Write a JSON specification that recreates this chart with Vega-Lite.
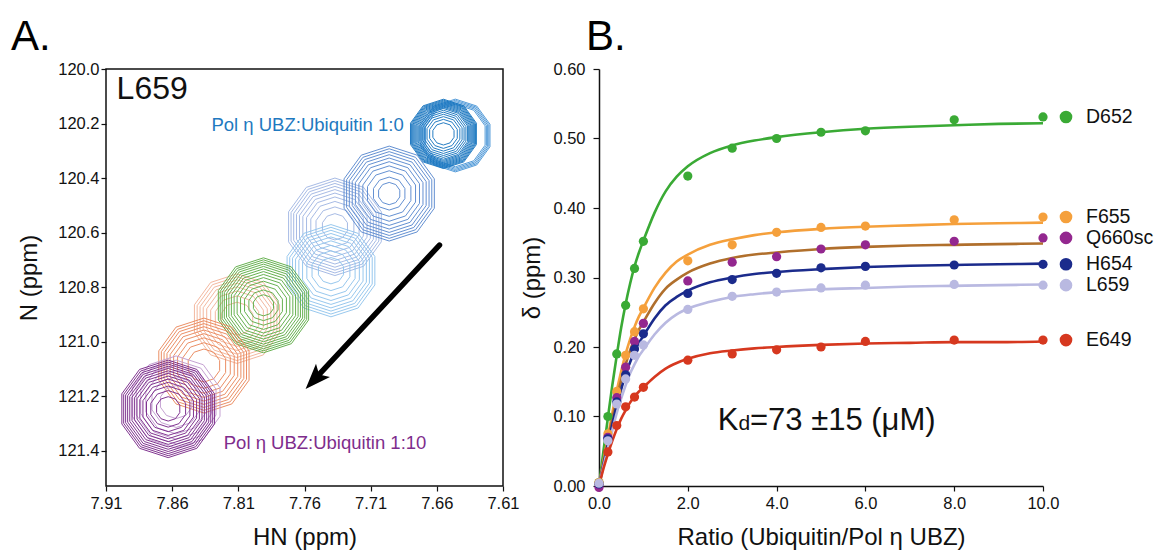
{
  "$schema": "https://vega.github.io/schema/vega-lite/v6.json",
  "background": "white",
  "padding": {"left": 10, "top": 15, "right": 5, "bottom": 5},
  "autosize": {"type": "pad"},
  "bounds": "flush",
  "spacing": 96,
  "config": {
    "font": "Liberation Sans",
    "view": {"stroke": null},
    "axis": {
      "labelFont": "Liberation Sans", "labelFontSize": 16.5, "labelColor": "#111",
      "titleFont": "Liberation Sans", "titleFontSize": 24, "titleFontWeight": "normal", "titleColor": "#111",
      "grid": false, "tickColor": "#111", "domainColor": "#111", "domainWidth": 1.5, "tickWidth": 1.2,
      "labelFlush": false, "labelOverlap": false
    }
  },
  "datasets": {
    "contours": [
      {"spectrum":"p3","hn":7.737,"n":120.579,"level":1},{"spectrum":"p3","hn":7.737,"n":120.579,"level":3},{"spectrum":"p3","hn":7.737,"n":120.579,"level":5},{"spectrum":"p3","hn":7.737,"n":120.579,"level":7},{"spectrum":"p3","hn":7.737,"n":120.579,"level":9},{"spectrum":"p3","hn":7.737,"n":120.579,"level":11},{"spectrum":"p3","hn":7.737,"n":120.579,"level":13},{"spectrum":"p3","hn":7.737,"n":120.579,"level":15},{"spectrum":"p3","hn":7.737,"n":120.579,"level":17},{"spectrum":"p3","hn":7.737,"n":120.579,"level":18.8},
      {"spectrum":"p4","hn":7.74,"n":120.74,"level":3},{"spectrum":"p4","hn":7.74,"n":120.74,"level":5},{"spectrum":"p4","hn":7.74,"n":120.74,"level":7},{"spectrum":"p4","hn":7.74,"n":120.74,"level":9},{"spectrum":"p4","hn":7.74,"n":120.74,"level":11},{"spectrum":"p4","hn":7.74,"n":120.74,"level":13},{"spectrum":"p4","hn":7.74,"n":120.74,"level":15},{"spectrum":"p4","hn":7.74,"n":120.74,"level":17},{"spectrum":"p4","hn":7.74,"n":120.74,"level":18.8},
      {"spectrum":"p2","hn":7.696,"n":120.457,"level":2},{"spectrum":"p2","hn":7.696,"n":120.457,"level":4},{"spectrum":"p2","hn":7.696,"n":120.457,"level":6},{"spectrum":"p2","hn":7.696,"n":120.457,"level":8},{"spectrum":"p2","hn":7.696,"n":120.457,"level":10},{"spectrum":"p2","hn":7.696,"n":120.457,"level":12},{"spectrum":"p2","hn":7.696,"n":120.457,"level":14},{"spectrum":"p2","hn":7.696,"n":120.457,"level":16},{"spectrum":"p2","hn":7.696,"n":120.457,"level":18},{"spectrum":"p2","hn":7.696,"n":120.457,"level":19.2},
      {"spectrum":"p1b","hn":7.646,"n":120.244,"level":9.5},{"spectrum":"p1b","hn":7.646,"n":120.244,"level":10.2},{"spectrum":"p1b","hn":7.646,"n":120.244,"level":10.9},{"spectrum":"p1b","hn":7.646,"n":120.244,"level":11.6},{"spectrum":"p1b","hn":7.646,"n":120.244,"level":12.3},
      {"spectrum":"p1","hn":7.655,"n":120.238,"level":10.5},{"spectrum":"p1","hn":7.655,"n":120.238,"level":11},{"spectrum":"p1","hn":7.655,"n":120.238,"level":11.5},{"spectrum":"p1","hn":7.655,"n":120.238,"level":12},{"spectrum":"p1","hn":7.655,"n":120.238,"level":12.5},{"spectrum":"p1","hn":7.655,"n":120.238,"level":13},{"spectrum":"p1","hn":7.655,"n":120.238,"level":13.5},{"spectrum":"p1","hn":7.655,"n":120.238,"level":14},{"spectrum":"p1","hn":7.655,"n":120.238,"level":14.5},{"spectrum":"p1","hn":7.655,"n":120.238,"level":15},{"spectrum":"p1","hn":7.655,"n":120.238,"level":15.7},{"spectrum":"p1","hn":7.655,"n":120.238,"level":16.4},{"spectrum":"p1","hn":7.655,"n":120.238,"level":17.1},{"spectrum":"p1","hn":7.655,"n":120.238,"level":17.8},{"spectrum":"p1","hn":7.655,"n":120.238,"level":18.5},{"spectrum":"p1","hn":7.655,"n":120.238,"level":19.2},
      {"spectrum":"p6","hn":7.811,"n":120.916,"level":4},{"spectrum":"p6","hn":7.811,"n":120.916,"level":6},{"spectrum":"p6","hn":7.811,"n":120.916,"level":8},{"spectrum":"p6","hn":7.811,"n":120.916,"level":10},{"spectrum":"p6","hn":7.811,"n":120.916,"level":12},{"spectrum":"p6","hn":7.811,"n":120.916,"level":14},{"spectrum":"p6","hn":7.811,"n":120.916,"level":16},{"spectrum":"p6","hn":7.811,"n":120.916,"level":18},
      {"spectrum":"p5","hn":7.791,"n":120.867,"level":2},{"spectrum":"p5","hn":7.791,"n":120.867,"level":3.5},{"spectrum":"p5","hn":7.791,"n":120.867,"level":5},{"spectrum":"p5","hn":7.791,"n":120.867,"level":6.5},{"spectrum":"p5","hn":7.791,"n":120.867,"level":8},{"spectrum":"p5","hn":7.791,"n":120.867,"level":9.5},{"spectrum":"p5","hn":7.791,"n":120.867,"level":11},{"spectrum":"p5","hn":7.791,"n":120.867,"level":12.5},{"spectrum":"p5","hn":7.791,"n":120.867,"level":14},{"spectrum":"p5","hn":7.791,"n":120.867,"level":15.5},{"spectrum":"p5","hn":7.791,"n":120.867,"level":17},{"spectrum":"p5","hn":7.791,"n":120.867,"level":18.3},{"spectrum":"p5","hn":7.791,"n":120.867,"level":19.3},
      {"spectrum":"p7","hn":7.836,"n":121.088,"level":2},{"spectrum":"p7","hn":7.836,"n":121.088,"level":4},{"spectrum":"p7","hn":7.836,"n":121.088,"level":6},{"spectrum":"p7","hn":7.836,"n":121.088,"level":8},{"spectrum":"p7","hn":7.836,"n":121.088,"level":10},{"spectrum":"p7","hn":7.836,"n":121.088,"level":12},{"spectrum":"p7","hn":7.836,"n":121.088,"level":14},{"spectrum":"p7","hn":7.836,"n":121.088,"level":16},{"spectrum":"p7","hn":7.836,"n":121.088,"level":18},
      {"spectrum":"p8","hn":7.857,"n":121.222,"level":3},{"spectrum":"p8","hn":7.857,"n":121.222,"level":6},{"spectrum":"p8","hn":7.857,"n":121.222,"level":9},{"spectrum":"p8","hn":7.857,"n":121.222,"level":12},{"spectrum":"p8","hn":7.857,"n":121.222,"level":15},{"spectrum":"p8","hn":7.857,"n":121.222,"level":18},
      {"spectrum":"p9","hn":7.863,"n":121.247,"level":1},{"spectrum":"p9","hn":7.863,"n":121.247,"level":2.5},{"spectrum":"p9","hn":7.863,"n":121.247,"level":4},{"spectrum":"p9","hn":7.863,"n":121.247,"level":5.5},{"spectrum":"p9","hn":7.863,"n":121.247,"level":7},{"spectrum":"p9","hn":7.863,"n":121.247,"level":8.5},{"spectrum":"p9","hn":7.863,"n":121.247,"level":10},{"spectrum":"p9","hn":7.863,"n":121.247,"level":11.5},{"spectrum":"p9","hn":7.863,"n":121.247,"level":13},{"spectrum":"p9","hn":7.863,"n":121.247,"level":14.5},{"spectrum":"p9","hn":7.863,"n":121.247,"level":16},{"spectrum":"p9","hn":7.863,"n":121.247,"level":17.5},{"spectrum":"p9","hn":7.863,"n":121.247,"level":19}
    ],
    "pts": [
      {"series":"D652","ratio":0,"delta":0.005},{"series":"D652","ratio":0.2,"delta":0.100},{"series":"D652","ratio":0.4,"delta":0.190},{"series":"D652","ratio":0.6,"delta":0.260},{"series":"D652","ratio":0.8,"delta":0.313},{"series":"D652","ratio":1,"delta":0.352},{"series":"D652","ratio":2,"delta":0.446},{"series":"D652","ratio":3,"delta":0.486},{"series":"D652","ratio":4,"delta":0.500},{"series":"D652","ratio":5,"delta":0.509},{"series":"D652","ratio":6,"delta":0.511},{"series":"D652","ratio":8,"delta":0.527},{"series":"D652","ratio":10,"delta":0.531},
      {"series":"E649","ratio":0,"delta":0.004},{"series":"E649","ratio":0.2,"delta":0.049},{"series":"E649","ratio":0.4,"delta":0.087},{"series":"E649","ratio":0.6,"delta":0.114},{"series":"E649","ratio":0.8,"delta":0.128},{"series":"E649","ratio":1,"delta":0.142},{"series":"E649","ratio":2,"delta":0.181},{"series":"E649","ratio":3,"delta":0.190},{"series":"E649","ratio":4,"delta":0.196},{"series":"E649","ratio":5,"delta":0.200},{"series":"E649","ratio":6,"delta":0.208},{"series":"E649","ratio":8,"delta":0.210},{"series":"E649","ratio":10,"delta":0.210},
      {"series":"F655","ratio":0,"delta":0.005},{"series":"F655","ratio":0.2,"delta":0.075},{"series":"F655","ratio":0.4,"delta":0.136},{"series":"F655","ratio":0.6,"delta":0.188},{"series":"F655","ratio":0.8,"delta":0.222},{"series":"F655","ratio":1,"delta":0.255},{"series":"F655","ratio":2,"delta":0.324},{"series":"F655","ratio":3,"delta":0.347},{"series":"F655","ratio":4,"delta":0.365},{"series":"F655","ratio":5,"delta":0.372},{"series":"F655","ratio":6,"delta":0.374},{"series":"F655","ratio":8,"delta":0.383},{"series":"F655","ratio":10,"delta":0.387},
      {"series":"Q660sc","ratio":0,"delta":-0.002},{"series":"Q660sc","ratio":0.2,"delta":0.070},{"series":"Q660sc","ratio":0.4,"delta":0.127},{"series":"Q660sc","ratio":0.6,"delta":0.171},{"series":"Q660sc","ratio":0.8,"delta":0.208},{"series":"Q660sc","ratio":1,"delta":0.234},{"series":"Q660sc","ratio":2,"delta":0.295},{"series":"Q660sc","ratio":3,"delta":0.322},{"series":"Q660sc","ratio":4,"delta":0.330},{"series":"Q660sc","ratio":5,"delta":0.341},{"series":"Q660sc","ratio":6,"delta":0.347},{"series":"Q660sc","ratio":8,"delta":0.352},{"series":"Q660sc","ratio":10,"delta":0.357},
      {"series":"H654","ratio":0,"delta":0.003},{"series":"H654","ratio":0.2,"delta":0.068},{"series":"H654","ratio":0.4,"delta":0.121},{"series":"H654","ratio":0.6,"delta":0.160},{"series":"H654","ratio":0.8,"delta":0.197},{"series":"H654","ratio":1,"delta":0.219},{"series":"H654","ratio":2,"delta":0.277},{"series":"H654","ratio":3,"delta":0.297},{"series":"H654","ratio":4,"delta":0.306},{"series":"H654","ratio":5,"delta":0.314},{"series":"H654","ratio":6,"delta":0.316},{"series":"H654","ratio":8,"delta":0.318},{"series":"H654","ratio":10,"delta":0.319},
      {"series":"L659","ratio":0,"delta":0.004},{"series":"L659","ratio":0.2,"delta":0.065},{"series":"L659","ratio":0.4,"delta":0.118},{"series":"L659","ratio":0.6,"delta":0.154},{"series":"L659","ratio":0.8,"delta":0.188},{"series":"L659","ratio":1,"delta":0.203},{"series":"L659","ratio":2,"delta":0.254},{"series":"L659","ratio":3,"delta":0.273},{"series":"L659","ratio":4,"delta":0.279},{"series":"L659","ratio":5,"delta":0.285},{"series":"L659","ratio":6,"delta":0.289},{"series":"L659","ratio":8,"delta":0.290},{"series":"L659","ratio":10,"delta":0.289}
    ],
    "fit": [
      {"series":"D652","ratio":0,"delta":0},{"series":"D652","ratio":0.1,"delta":0.050},{"series":"D652","ratio":0.2,"delta":0.098},{"series":"D652","ratio":0.3,"delta":0.145},{"series":"D652","ratio":0.4,"delta":0.188},{"series":"D652","ratio":0.5,"delta":0.228},{"series":"D652","ratio":0.6,"delta":0.262},{"series":"D652","ratio":0.7,"delta":0.291},{"series":"D652","ratio":0.8,"delta":0.316},{"series":"D652","ratio":0.9,"delta":0.336},{"series":"D652","ratio":1,"delta":0.353},{"series":"D652","ratio":1.25,"delta":0.393},{"series":"D652","ratio":1.5,"delta":0.424},{"series":"D652","ratio":1.75,"delta":0.445},{"series":"D652","ratio":2,"delta":0.460},{"series":"D652","ratio":2.5,"delta":0.479},{"series":"D652","ratio":3,"delta":0.490},{"series":"D652","ratio":3.5,"delta":0.497},{"series":"D652","ratio":4,"delta":0.502},{"series":"D652","ratio":5,"delta":0.509},{"series":"D652","ratio":6,"delta":0.514},{"series":"D652","ratio":7,"delta":0.517},{"series":"D652","ratio":8,"delta":0.519},{"series":"D652","ratio":9,"delta":0.521},{"series":"D652","ratio":10,"delta":0.522},
      {"series":"F655","ratio":0,"delta":0},{"series":"F655","ratio":0.1,"delta":0.036},{"series":"F655","ratio":0.2,"delta":0.071},{"series":"F655","ratio":0.3,"delta":0.105},{"series":"F655","ratio":0.4,"delta":0.137},{"series":"F655","ratio":0.5,"delta":0.165},{"series":"F655","ratio":0.6,"delta":0.190},{"series":"F655","ratio":0.7,"delta":0.211},{"series":"F655","ratio":0.8,"delta":0.229},{"series":"F655","ratio":0.9,"delta":0.244},{"series":"F655","ratio":1,"delta":0.256},{"series":"F655","ratio":1.25,"delta":0.285},{"series":"F655","ratio":1.5,"delta":0.307},{"series":"F655","ratio":1.75,"delta":0.323},{"series":"F655","ratio":2,"delta":0.333},{"series":"F655","ratio":2.5,"delta":0.347},{"series":"F655","ratio":3,"delta":0.355},{"series":"F655","ratio":3.5,"delta":0.361},{"series":"F655","ratio":4,"delta":0.365},{"series":"F655","ratio":5,"delta":0.370},{"series":"F655","ratio":6,"delta":0.373},{"series":"F655","ratio":7,"delta":0.375},{"series":"F655","ratio":8,"delta":0.377},{"series":"F655","ratio":9,"delta":0.378},{"series":"F655","ratio":10,"delta":0.379},
      {"series":"Q660sc","ratio":0,"delta":0},{"series":"Q660sc","ratio":0.1,"delta":0.033},{"series":"Q660sc","ratio":0.2,"delta":0.066},{"series":"Q660sc","ratio":0.3,"delta":0.097},{"series":"Q660sc","ratio":0.4,"delta":0.126},{"series":"Q660sc","ratio":0.5,"delta":0.152},{"series":"Q660sc","ratio":0.6,"delta":0.175},{"series":"Q660sc","ratio":0.7,"delta":0.195},{"series":"Q660sc","ratio":0.8,"delta":0.211},{"series":"Q660sc","ratio":0.9,"delta":0.225},{"series":"Q660sc","ratio":1,"delta":0.236},{"series":"Q660sc","ratio":1.25,"delta":0.263},{"series":"Q660sc","ratio":1.5,"delta":0.284},{"series":"Q660sc","ratio":1.75,"delta":0.297},{"series":"Q660sc","ratio":2,"delta":0.307},{"series":"Q660sc","ratio":2.5,"delta":0.320},{"series":"Q660sc","ratio":3,"delta":0.328},{"series":"Q660sc","ratio":3.5,"delta":0.333},{"series":"Q660sc","ratio":4,"delta":0.336},{"series":"Q660sc","ratio":5,"delta":0.341},{"series":"Q660sc","ratio":6,"delta":0.344},{"series":"Q660sc","ratio":7,"delta":0.346},{"series":"Q660sc","ratio":8,"delta":0.347},{"series":"Q660sc","ratio":9,"delta":0.348},{"series":"Q660sc","ratio":10,"delta":0.349},
      {"series":"H654","ratio":0,"delta":0},{"series":"H654","ratio":0.1,"delta":0.031},{"series":"H654","ratio":0.2,"delta":0.060},{"series":"H654","ratio":0.3,"delta":0.089},{"series":"H654","ratio":0.4,"delta":0.116},{"series":"H654","ratio":0.5,"delta":0.139},{"series":"H654","ratio":0.6,"delta":0.161},{"series":"H654","ratio":0.7,"delta":0.178},{"series":"H654","ratio":0.8,"delta":0.194},{"series":"H654","ratio":0.9,"delta":0.206},{"series":"H654","ratio":1,"delta":0.216},{"series":"H654","ratio":1.25,"delta":0.241},{"series":"H654","ratio":1.5,"delta":0.260},{"series":"H654","ratio":1.75,"delta":0.272},{"series":"H654","ratio":2,"delta":0.281},{"series":"H654","ratio":2.5,"delta":0.293},{"series":"H654","ratio":3,"delta":0.300},{"series":"H654","ratio":3.5,"delta":0.305},{"series":"H654","ratio":4,"delta":0.308},{"series":"H654","ratio":5,"delta":0.312},{"series":"H654","ratio":6,"delta":0.315},{"series":"H654","ratio":7,"delta":0.317},{"series":"H654","ratio":8,"delta":0.318},{"series":"H654","ratio":9,"delta":0.319},{"series":"H654","ratio":10,"delta":0.320},
      {"series":"L659","ratio":0,"delta":0},{"series":"L659","ratio":0.1,"delta":0.028},{"series":"L659","ratio":0.2,"delta":0.054},{"series":"L659","ratio":0.3,"delta":0.080},{"series":"L659","ratio":0.4,"delta":0.105},{"series":"L659","ratio":0.5,"delta":0.126},{"series":"L659","ratio":0.6,"delta":0.145},{"series":"L659","ratio":0.7,"delta":0.162},{"series":"L659","ratio":0.8,"delta":0.175},{"series":"L659","ratio":0.9,"delta":0.187},{"series":"L659","ratio":1,"delta":0.196},{"series":"L659","ratio":1.25,"delta":0.218},{"series":"L659","ratio":1.5,"delta":0.235},{"series":"L659","ratio":1.75,"delta":0.247},{"series":"L659","ratio":2,"delta":0.255},{"series":"L659","ratio":2.5,"delta":0.265},{"series":"L659","ratio":3,"delta":0.272},{"series":"L659","ratio":3.5,"delta":0.276},{"series":"L659","ratio":4,"delta":0.279},{"series":"L659","ratio":5,"delta":0.283},{"series":"L659","ratio":6,"delta":0.285},{"series":"L659","ratio":7,"delta":0.287},{"series":"L659","ratio":8,"delta":0.288},{"series":"L659","ratio":9,"delta":0.289},{"series":"L659","ratio":10,"delta":0.290},
      {"series":"E649","ratio":0,"delta":0},{"series":"E649","ratio":0.1,"delta":0.025},{"series":"E649","ratio":0.2,"delta":0.046},{"series":"E649","ratio":0.3,"delta":0.065},{"series":"E649","ratio":0.4,"delta":0.082},{"series":"E649","ratio":0.5,"delta":0.097},{"series":"E649","ratio":0.6,"delta":0.109},{"series":"E649","ratio":0.7,"delta":0.120},{"series":"E649","ratio":0.8,"delta":0.129},{"series":"E649","ratio":0.9,"delta":0.136},{"series":"E649","ratio":1,"delta":0.142},{"series":"E649","ratio":1.25,"delta":0.157},{"series":"E649","ratio":1.5,"delta":0.169},{"series":"E649","ratio":1.75,"delta":0.177},{"series":"E649","ratio":2,"delta":0.183},{"series":"E649","ratio":2.5,"delta":0.191},{"series":"E649","ratio":3,"delta":0.195},{"series":"E649","ratio":3.5,"delta":0.198},{"series":"E649","ratio":4,"delta":0.200},{"series":"E649","ratio":5,"delta":0.203},{"series":"E649","ratio":6,"delta":0.205},{"series":"E649","ratio":7,"delta":0.206},{"series":"E649","ratio":8,"delta":0.207},{"series":"E649","ratio":9,"delta":0.207},{"series":"E649","ratio":10,"delta":0.208}
    ]
  },
  "hconcat": [
    {
      "width": 397,
      "height": 417,
      "view": {"stroke": "#111", "strokeWidth": 1.5},
      "encoding": {
        "x": {"field": "hn", "type": "quantitative",
              "scale": {"domain": [7.61, 7.91], "reverse": true, "nice": false, "zero": false},
              "axis": {"values": [7.91, 7.86, 7.81, 7.76, 7.71, 7.66, 7.61], "format": ".2f", "title": "HN (ppm)", "domain": false, "tickSize": 5, "labelPadding": 4, "titlePadding": 14}},
        "y": {"field": "n", "type": "quantitative",
              "scale": {"domain": [120.0, 121.53], "reverse": true, "nice": false, "zero": false},
              "axis": {"values": [120.0, 120.2, 120.4, 120.6, 120.8, 121.0, 121.2, 121.4], "format": ".1f", "title": "N (ppm)", "domain": false, "tickSize": 5, "labelPadding": 2, "titlePadding": 16}}
      },
      "layer": [
        {
          "data": {"name": "contours"},
          "mark": {"type": "point", "shape": "M0,-1L0.588,-0.809L0.951,-0.309L0.951,0.309L0.588,0.809L0,1L-0.588,0.809L-0.951,0.309L-0.951,-0.309L-0.588,-0.809Z", "filled": false, "strokeWidth": 1, "opacity": 0.95},
          "encoding": {
            "color": {"field": "spectrum", "type": "nominal", "legend": null,
                      "scale": {"domain": ["p1","p1b","p2","p3","p4","p5","p6","p7","p8","p9"],
                                "range": ["#1a77c1","#4b97d8","#5c8bd0","#a3b8e4","#93c6ee","#5fae48","#f3b59b","#eb8a5e","#c39ed1","#7b2b8b"]}},
            "size": {"field": "level", "type": "quantitative", "legend": null, "scale": {"domain": [0, 20], "range": [10000, 100]}}
          }
        },
        {
          "data": {"values": [{"hn": 7.658, "n": 120.646}, {"hn": 7.7526, "n": 121.14}]},
          "mark": {"type": "line", "color": "#000", "strokeWidth": 5.5, "strokeCap": "round"},
          "encoding": {}
        },
        {
          "data": {"values": [{"hn": 7.7526, "n": 121.14}]},
          "mark": {"type": "point", "shape": "M0,-1L0.75,1L0,0.55L-0.75,1Z", "filled": true, "color": "#000", "opacity": 1, "size": 650, "angle": 223},
          "encoding": {}
        },
        {
          "data": {"values": [{"hn": 7.902, "n": 120.073, "label": "L659"}]},
          "mark": {"type": "text", "align": "left", "baseline": "middle", "fontSize": 32, "color": "#111"},
          "encoding": {"text": {"field": "label"}}
        },
        {
          "data": {"values": [{"hn": 7.685, "n": 120.207, "label": "Pol η UBZ:Ubiquitin 1:0"}]},
          "mark": {"type": "text", "align": "right", "baseline": "middle", "fontSize": 18.5, "color": "#1f79c0"},
          "encoding": {"text": {"field": "label"}}
        },
        {
          "data": {"values": [{"hn": 7.821, "n": 121.373, "label": "Pol η UBZ:Ubiquitin 1:10"}]},
          "mark": {"type": "text", "align": "left", "baseline": "middle", "fontSize": 18.5, "color": "#7e2d8c"},
          "encoding": {"text": {"field": "label"}}
        },
        {
          "data": {"values": [{"hn": 7.9818, "n": 119.930, "label": "A."}]},
          "mark": {"type": "text", "align": "left", "baseline": "alphabetic", "fontSize": 42, "color": "#000"},
          "encoding": {"text": {"field": "label"}}
        }
      ]
    },
    {
      "width": 444,
      "height": 417,
      "resolve": {"scale": {"color": "independent"}},
      "encoding": {
        "x": {"field": "ratio", "type": "quantitative",
              "scale": {"domain": [0, 10], "nice": false, "zero": false},
              "axis": {"values": [0, 2, 4, 6, 8, 10], "format": ".1f", "title": "Ratio (Ubiquitin/Pol η UBZ)", "tickSize": 5, "labelPadding": 4, "titlePadding": 14}},
        "y": {"field": "delta", "type": "quantitative",
              "scale": {"domain": [0, 0.6], "nice": false, "zero": false},
              "axis": {"values": [0, 0.1, 0.2, 0.3, 0.4, 0.5, 0.6], "format": ".2f", "title": "δ (ppm)", "tickSize": 6, "labelPadding": 8, "titlePadding": 8}}
      },
      "layer": [
        {
          "data": {"values": [{}]},
          "mark": {"type": "rule", "color": "#111", "strokeWidth": 1.5},
          "encoding": {"x": {"datum": 10}, "y": {"datum": 0}, "y2": {"datum": 0.6}}
        },
        {
          "data": {"name": "fit"},
          "mark": {"type": "line", "strokeWidth": 2.6, "interpolate": "monotone"},
          "encoding": {
            "color": {"field": "series", "type": "nominal", "legend": null,
                      "scale": {"domain": ["D652","F655","Q660sc","H654","L659","E649"], "range": ["#3aaa35","#f5a03c","#b06f2c","#1b2b8c","#b9b9e1","#d6381f"]}},
            "detail": {"field": "series"}
          }
        },
        {
          "data": {"name": "pts"},
          "mark": {"type": "point", "filled": true, "size": 85, "opacity": 1},
          "encoding": {
            "color": {"field": "series", "type": "nominal", "legend": null,
                      "scale": {"domain": ["D652","F655","Q660sc","H654","L659","E649"], "range": ["#3aaa35","#f5a03c","#93278f","#1b2b8c","#b9b9e1","#d6381f"]}}
          }
        },
        {
          "data": {"name": "pts"},
          "transform": [{"filter": "datum.ratio == 10"}],
          "mark": {"type": "point", "filled": true, "size": 160, "opacity": 1, "xOffset": 23},
          "encoding": {
            "color": {"field": "series", "type": "nominal", "legend": null,
                      "scale": {"domain": ["D652","F655","Q660sc","H654","L659","E649"], "range": ["#3aaa35","#f5a03c","#93278f","#1b2b8c","#b9b9e1","#d6381f"]}}
          }
        },
        {
          "data": {"name": "pts"},
          "transform": [{"filter": "datum.ratio == 10"}],
          "mark": {"type": "text", "align": "left", "baseline": "middle", "fontSize": 19.5, "color": "#111", "xOffset": 43},
          "encoding": {"text": {"field": "series"}}
        },
        {
          "data": {"values": [{"ratio": 2.674, "delta": 0.0806, "label": "K"}, {"ratio": 3.40, "delta": 0.0806, "label": "=73 ±15 (μM)"}]},
          "mark": {"type": "text", "align": "left", "baseline": "alphabetic", "fontSize": 31, "color": "#111"},
          "encoding": {"text": {"field": "label"}}
        },
        {
          "data": {"values": [{"ratio": 3.14, "delta": 0.0806, "label": "d"}]},
          "mark": {"type": "text", "align": "left", "baseline": "alphabetic", "fontSize": 21, "color": "#111"},
          "encoding": {"text": {"field": "label"}}
        },
        {
          "data": {"values": [{"ratio": -0.292, "delta": 0.627, "label": "B."}]},
          "mark": {"type": "text", "align": "left", "baseline": "alphabetic", "fontSize": 42, "color": "#000"},
          "encoding": {"text": {"field": "label"}}
        }
      ]
    }
  ]
}
